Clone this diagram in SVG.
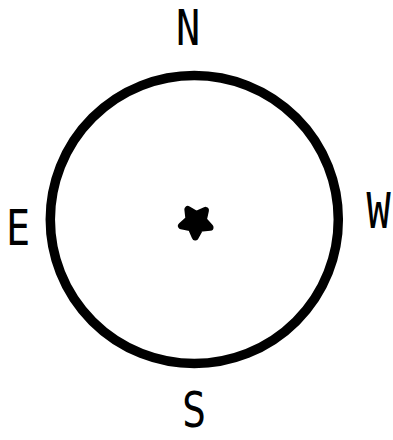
<svg xmlns="http://www.w3.org/2000/svg" width="393" height="440" viewBox="0 0 393 440">
<style>
.lbl{font-family:"DejaVu Sans Mono","Liberation Mono",monospace;font-size:49px;fill:#000;text-anchor:middle}
</style>
<rect width="393" height="440" fill="#fff"/>
<g id="dial">
<circle cx="194.3" cy="219.5" r="144" fill="none" stroke="#000" stroke-width="9.5"/>
</g>
<g id="star">
<path transform="translate(196,222) rotate(3)" d="M0,15 L4.4,6.1 L14.3,4.6 L7.2,-2.4 L8.8,-12.1 L0,-7.5 L-8.8,-12.1 L-7.2,-2.4 L-14.3,4.6 L-4.4,6.1 Z" fill="#000" stroke="#000" stroke-width="7" stroke-linejoin="round"/>
</g>
<g id="label-N"><text class="lbl" transform="translate(188,45) scale(0.82,1)">N</text></g>
<g id="label-E"><text class="lbl" transform="translate(18,245) scale(0.82,1)">E</text></g>
<g id="label-W"><text class="lbl" transform="translate(378.5,228) scale(0.82,1)">W</text></g>
<g id="label-S"><text class="lbl" transform="translate(194,427) scale(0.82,1)">S</text></g>
</svg>
